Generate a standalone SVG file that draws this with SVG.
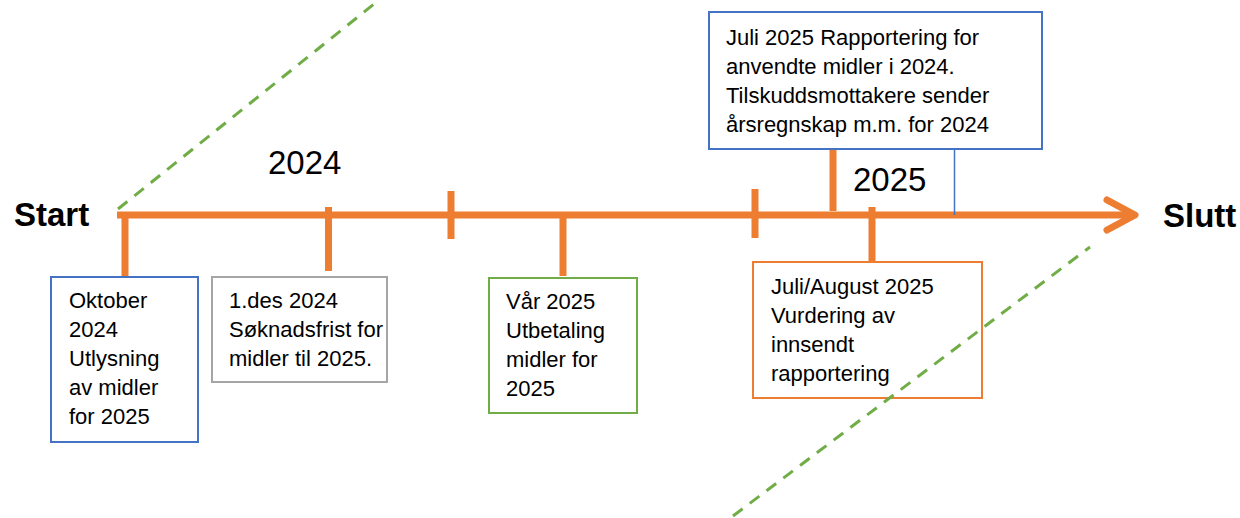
<svg xmlns="http://www.w3.org/2000/svg" width="1240" height="518" viewBox="0 0 1240 518">
<style>
.t{font-family:"Liberation Sans",Arial,sans-serif;font-size:22px;fill:#000}
.yr{font-family:"Liberation Sans",Arial,sans-serif;font-size:33px;fill:#000}
.big{font-family:"Liberation Sans",Arial,sans-serif;font-size:33px;font-weight:bold;fill:#000}
.box{fill:#fff;stroke-width:2}
.or{stroke:#ED7D31;stroke-width:7;fill:none}
.dash{stroke:#70AD47;stroke-width:3;stroke-dasharray:12 9;fill:none}
</style>
<rect width="1240" height="518" fill="#fff"/>
<g id="connectors">
<line class="or" x1="117" y1="215" x2="1132" y2="215"/>
<polyline class="or" points="1107,200 1135,215 1107,230" stroke-linecap="round" stroke-linejoin="round"/>
<line class="or" x1="125" y1="215" x2="125" y2="277"/>
<line class="or" x1="328.5" y1="207" x2="328.5" y2="271"/>
<line class="or" x1="451" y1="191" x2="451" y2="239"/>
<line class="or" x1="563" y1="215" x2="563" y2="276"/>
<line class="or" x1="755" y1="189" x2="755" y2="238"/>
<line class="or" x1="833" y1="149" x2="833" y2="211"/>
<line class="or" x1="872" y1="207" x2="872" y2="270"/>
<line x1="954.5" y1="149" x2="954.5" y2="215" stroke="#4472C4" stroke-width="1.5"/>
</g>
<g id="start"><text class="big" x="14" y="226">Start</text></g>
<g id="slutt"><text class="big" x="1163" y="227">Slutt</text></g>
<g id="year2024"><text class="yr" x="268" y="174">2024</text></g>
<g id="year2025"><text class="yr" x="853" y="191">2025</text></g>
<g id="node-oktober">
<rect class="box" x="51" y="277" width="147" height="165" stroke="#4472C4"/>
<text class="t" x="69" y="308">Oktober</text>
<text class="t" x="69" y="337">2024</text>
<text class="t" x="69" y="366">Utlysning</text>
<text class="t" x="69" y="395">av midler</text>
<text class="t" x="69" y="424">for 2025</text>
</g>
<g id="node-des">
<rect class="box" x="212" y="277" width="175" height="105" stroke="#A5A5A5"/>
<text class="t" x="229" y="308">1.des 2024</text>
<text class="t" x="229" y="337">Søknadsfrist for</text>
<text class="t" x="229" y="366">midler til 2025.</text>
</g>
<g id="node-var">
<rect class="box" x="489" y="278" width="148" height="135" stroke="#70AD47"/>
<text class="t" x="506" y="309">Vår 2025</text>
<text class="t" x="506" y="338">Utbetaling</text>
<text class="t" x="506" y="367">midler for</text>
<text class="t" x="506" y="396">2025</text>
</g>
<g id="node-juliaug">
<rect class="box" x="753" y="262" width="229" height="136" stroke="#ED7D31"/>
<text class="t" x="771" y="294">Juli/August 2025</text>
<text class="t" x="771" y="323">Vurdering av</text>
<text class="t" x="771" y="352">innsendt</text>
<text class="t" x="771" y="381">rapportering</text>
</g>
<g id="node-juli">
<rect class="box" x="709" y="12" width="333" height="137" stroke="#4472C4"/>
<text class="t" x="726" y="45">Juli 2025 Rapportering for</text>
<text class="t" x="726" y="74">anvendte midler i 2024.</text>
<text class="t" x="726" y="103">Tilskuddsmottakere sender</text>
<text class="t" x="726" y="132">årsregnskap m.m. for 2024</text>
</g>
<g id="guides">
<line class="dash" x1="118" y1="209" x2="379" y2="0"/>
<line class="dash" x1="733" y1="516" x2="1090" y2="247"/>
</g>
</svg>
